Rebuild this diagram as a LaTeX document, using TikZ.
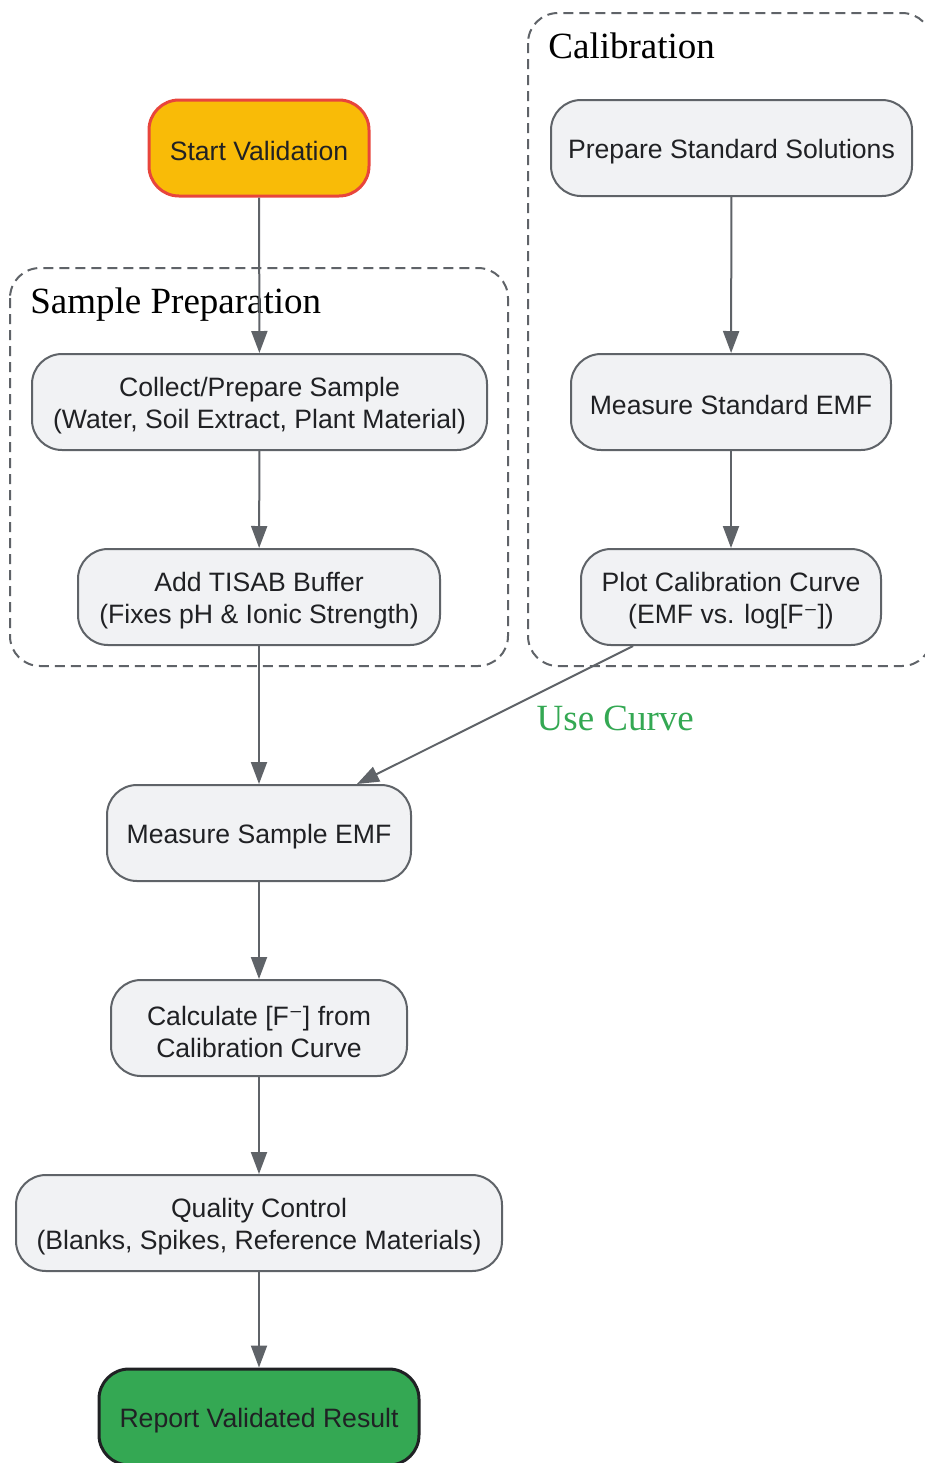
\documentclass[tikz,border=0pt]{standalone}
\usepackage{fontspec}
\setmainfont{Liberation Serif}
\setsansfont{Liberation Sans}
\newfontfamily\supfont{DejaVu Sans}
\usetikzlibrary{arrows.meta}
\definecolor{edgegray}{HTML}{5F6368}
\definecolor{boxfill}{HTML}{F1F2F4}
\definecolor{textdark}{HTML}{202124}
\definecolor{startfill}{HTML}{F9BB07}
\definecolor{startline}{HTML}{E8453C}
\definecolor{endfill}{HTML}{34A853}
\definecolor{lblgreen}{HTML}{34A853}
\newcommand{\supminus}{{\supfont ⁻}}

\begin{document}
\begin{tikzpicture}[x=0.5pt,y=-0.5pt,
        box/.style={draw=edgegray,line width=1pt,fill=boxfill,rounded corners=15pt,
            minimum height=48pt,align=center,text=textdark,text height=13pt,
            font=\sffamily\fontsize{13.3}{16}\selectfont},
        twoline/.style={text height=29.2pt},
        cluster/.style={draw=edgegray,line width=1pt,dashed,dash pattern=on 5pt off 3pt,rounded corners=15pt},
        ctitle/.style={anchor=base west,inner sep=0pt,font=\fontsize{18.5}{22}\selectfont},
        flow/.style={draw=edgegray,line width=1pt,-{Triangle[length=11pt,width=8pt]}},
        lbl/.style={text=lblgreen,font=\fontsize{18.5}{22}\selectfont}]
    \clip (0,0) rectangle (925,1463);
    \draw[cluster] (10,268) rectangle (508,666);
    \draw[cluster] (528,13) rectangle (932,666);
    \node[ctitle] (tprep) at (30,313) {Sample Preparation};
    \node[ctitle] (tcal) at (548,58) {Calibration};
    \node[box,minimum width=110pt,fill=startfill,draw=startline,line width=1.5pt] (start) at (259,148) {Start Validation};
    \node[box,twoline,minimum width=227.5pt] (collect) at (259.5,402) {Collect/Prepare Sample\\(Water, Soil Extract, Plant Material)};
    \node[box,twoline,minimum width=181pt] (tisab) at (259,597) {Add TISAB Buffer\\(Fixes pH \& Ionic Strength)};
    \node[box,minimum width=180.5pt] (prepstd) at (731.5,148) {Prepare Standard Solutions};
    \node[box,minimum width=160pt] (measstd) at (731,402) {Measure Standard EMF};
    \node[box,twoline,minimum width=150pt] (plotcal) at (731,597) {Plot Calibration Curve\\(EMF vs. log[F\supminus])};
    \node[box,minimum width=152pt] (meassmp) at (259,833) {Measure Sample EMF};
    \node[box,twoline,minimum width=148pt] (calc) at (259,1028) {Calculate [F\supminus] from\\Calibration Curve};
    \node[box,twoline,minimum width=243pt] (qc) at (259,1223) {Quality Control\\(Blanks, Spikes, Reference Materials)};
    \node[box,minimum width=160pt,fill=endfill,draw=textdark,line width=1.5pt] (report) at (259,1417) {Report Validated Result};
    \draw[flow] (start) -- (collect);
    \draw[flow] (collect) -- (tisab);
    \draw[flow] (tisab) -- (meassmp);
    \draw[flow] (prepstd) -- (measstd);
    \draw[flow] (measstd) -- (plotcal);
    \draw[flow] (plotcal) -- node[lbl,anchor=west,xshift=17pt,yshift=-1.5pt] (usecurve) {Use Curve} (meassmp);
    \draw[flow] (meassmp) -- (calc);
    \draw[flow] (calc) -- (qc);
    \draw[flow] (qc) -- (report);
\end{tikzpicture}
\end{document}
